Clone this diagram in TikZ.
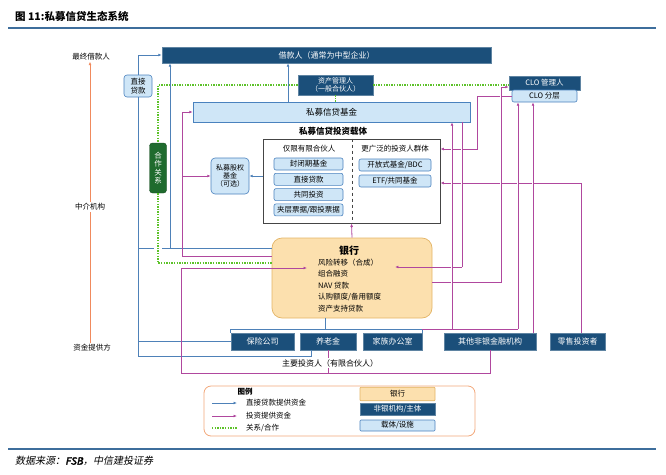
\documentclass[tikz,border=0pt]{standalone}
\usepackage{fontspec}
\setmainfont{Noto Sans CJK SC}
\newfontfamily\srcfont{Noto Sans CJK SC}[FakeSlant=0.2]
\newfontfamily\srcbold{Noto Sans CJK SC}[FakeSlant=0.2,FakeBold=2.5]
\usetikzlibrary{arrows.meta}

\definecolor{dkblue}{HTML}{1B4F7A}
\definecolor{ltblue}{HTML}{CFE6F7}
\definecolor{ltedge}{HTML}{4A82BE}
\definecolor{lnblue}{HTML}{4E81B8}
\definecolor{magline}{HTML}{B0479E}
\definecolor{grnline}{HTML}{5DC22A}
\definecolor{coopgreen}{HTML}{1F6B2E}
\definecolor{bankfill}{HTML}{FCE0AE}
\definecolor{bankedge}{HTML}{E3B466}
\definecolor{axisorg}{HTML}{F08A5D}
\definecolor{legorg}{HTML}{F2A77A}
\definecolor{rulecol}{HTML}{3E6E9C}
\definecolor{vehgray}{HTML}{454545}

\tikzset{
  darkbox/.style={fill=dkblue, draw=dkblue!70!white, line width=0.5pt, text=white, inner sep=0pt, align=center, font=\fontsize{8}{9}\selectfont},
  lightbox/.style={fill=ltblue, draw=ltedge, line width=0.6pt, rounded corners=2pt, inner sep=0pt, align=center, font=\fontsize{7.5}{8.5}\selectfont},
  bankbox/.style={fill=bankfill, draw=bankedge, line width=0.7pt, rounded corners=10pt},
  sidetext/.style={font=\fontsize{7.5}{8}\selectfont, inner sep=1pt},
  blueln/.style={draw=lnblue, line width=0.8pt},
  magln/.style={draw=magline, line width=0.8pt},
  grnln/.style={draw=grnline, line width=1.2pt, dash pattern=on 1.4pt off 1.2pt},
  halo/.style={preaction={draw=white, line width=2.8pt, -, shorten <=1.5pt, shorten >=4pt}},
}

\begin{document}
\begin{tikzpicture}[x=1pt, y=-1pt, >={Latex[length=3.4pt,width=2.8pt]}, font=\fontsize{7.5}{8}\selectfont]
\useasboundingbox (0,0) rectangle (666,474);

% title, rules, source
\node[anchor=west, inner sep=0, font=\bfseries\fontsize{10.5}{12}\selectfont] (title) at (15,16) {图 11:私募信贷生态系统};
\draw[rulecol, line width=1.5pt] (8,28) -- (656,28);
\draw[rulecol, line width=1.2pt] (8,449) -- (656,449);
\node[anchor=west, inner sep=0, font=\srcfont\fontsize{10}{12}\selectfont] (source) at (15,461) {数据来源：{\srcbold FSB}，中信建投证券};

% left axis
\node[sidetext] (ult) at (91,57) {最终借款人};
\node[sidetext] (mid) at (90,207) {中介机构};
\node[sidetext] (src) at (92,348) {资金提供方};
\draw[axisorg, line width=1pt] (mid.south |- src.north) -- (mid.south);
\draw[axisorg, line width=1pt, ->] (mid.north) -- (mid.north |- ult.south);

% boxes
\node[darkbox, minimum width=329pt, minimum height=16pt] (borrower) at (326.5,55) {借款人（通常为中型企业）};
\node[lightbox, rounded corners=3pt, minimum width=28pt, minimum height=22pt] (direct) at (138,86) {直接\\贷款};
\node[darkbox, minimum width=75pt, minimum height=20pt, font=\fontsize{7}{8.5}\selectfont] (gp) at (335.5,85) {资产管理人\\（一般合伙人）};
\node[lightbox, rounded corners=0pt, minimum width=277pt, minimum height=20pt, font=\fontsize{8.5}{9}\selectfont] (fund) at (331.5,112) {私募信贷基金};
\node[darkbox, minimum width=71pt, minimum height=14pt, font=\fontsize{7.5}{8}\selectfont] (clomgr) at (544.5,83) {CLO 管理人};
\node[lightbox, minimum width=65pt, minimum height=12pt] (clotr) at (544.5,96) {CLO 分层};
\node[fill=coopgreen, draw=coopgreen!70!black, rounded corners=3pt, text=white, minimum width=17pt, minimum height=50pt, inner sep=0pt, align=center, font=\fontsize{7.5}{8.5}\selectfont] (coop) at (158,168) {合\\作\\关\\系};
\node[lightbox, rounded corners=4pt, minimum width=38pt, minimum height=36pt, font=\fontsize{7}{8}\selectfont] (pe) at (230,176) {私募股权\\基金\\（可选）};

% investment vehicles
\node[draw=vehgray, line width=0.9pt, minimum width=177pt, minimum height=84pt, inner sep=0pt] (vehicle) at (351.5,181) {};
\node[font=\bfseries\fontsize{8.5}{9}\selectfont] (vehtitle) at (333,131) {私募信贷投资载体};
\draw[vehgray, dashed, line width=0.6pt] (vehicle.north -| 352,0) -- (vehicle.south -| 352,0);
\node (lponly) at (309,149) {仅限有限合伙人};
\node (broad) at (395,149) {更广泛的投资人群体};
\foreach \t [count=\i] in {封闭期基金, 直接贷款, 共同投资, 夹层票据/跟投票据}
  \node[lightbox, minimum width=69pt, minimum height=12pt] (lp\i) at (308.5,148.7+15.3*\i) {\t};
\node[lightbox, minimum width=72pt, minimum height=12pt] (open) at (395,165) {开放式基金/BDC};
\node[lightbox, minimum width=72pt, minimum height=12pt] (etf) at (395,181) {ETF/共同基金};

% bank
\node[bankbox, minimum width=160pt, minimum height=80pt] (bank) at (352,278) {};
\node[font=\bfseries\fontsize{10}{11}\selectfont] (banktitle) at (349,251) {银行};
\node[anchor=north west, align=left, inner sep=0pt, font=\fontsize{7.5}{11.5}\selectfont] (banklist) at (318,258.5) {风险转移（合成）\\组合融资\\NAV 贷款\\认购额度/备用额度\\资产支持贷款};

% fund providers
\node[darkbox, minimum width=63pt, minimum height=17pt] (ins) at (262.5,341.5) {保险公司};
\node[darkbox, minimum width=56pt, minimum height=17pt] (pen) at (328,341.5) {养老金};
\node[darkbox, minimum width=59pt, minimum height=17pt] (fam) at (392.5,341.5) {家族办公室};
\node[darkbox, minimum width=92pt, minimum height=17pt] (onbfi) at (490,341.5) {其他非银金融机构};
\node[darkbox, minimum width=55pt, minimum height=17pt] (retail) at (577.5,341.5) {零售投资者};

% direct lending (blue)
\draw[blueln] (pen.south -| 311,0) -- (311,356) -| (direct.south);
\draw[blueln,->] (direct.north) |- (borrower.west);
\draw[blueln] (ins.west) -- (ins.west -| direct.south);
\draw[blueln] (direct.south |- 0,248) -- (154,248);
\draw[blueln] (bank.west |- 0,248) -- (162,248);
\draw[blueln,->] (170,248) -- (borrower.south -| 170,0);
\draw[blueln,->] (fund.north -| 288,0) -- (borrower.south -| 288,0);
\draw[blueln] (ins.west |- ins.north) -- (ins.west |- 0,329) -- (fam.east |- 0,329) -- (fam.east |- fam.north);
\draw[blueln] (bank.south -| 325,0) -- (325,329);
\draw[blueln,->] (vehicle.west |- pe.east) -- (pe.east);

% relationship (green)
\draw[grnln] (gp.west) -| (coop.north);
\draw[grnln] (coop.south) |- (bank.west |- 0,263);
\draw[grnln] (gp.east) -- (gp.east -| clomgr.west);
\draw[grnln] (gp.south) -- (gp.south |- fund.north);

% investment (magenta)
\draw[magln,->] (bank.west |- 0,256) -| (182,112) -- (fund.west);
\draw[magln,->] (182,176) -- (pe.west);
\draw[magln] (onbfi.south) |- (181,373) -- (181,268);
\draw[magln,->] (181,268) -- (307,268);
\draw[magln] (pen.south) -- (pen.south |- 0,373);
\node[fill=white, inner sep=1pt, font=\fontsize{8}{9}\selectfont] (lpnote) at (330,363) {主要投资人（有限合伙人）};
\draw[magln,->] (bank.north) -- (vehicle.south);
\draw[magln,->] (retail.north -| 581,0) |- (vehicle.east |- 0,183);
\draw[magln,->] (clotr.west) -| (477,149) -- (vehicle.east |- 0,149);
\draw[magln,halo,->] (bank.east |- 0,282) -| (501,87) -- (clomgr.west |- 0,87);
\draw[magln,halo] (fund.south -| 462,0) -- (462,267);
\draw[magln,->] (462,267) -- (395,267);
\draw[magln] (fam.east |- 0,329) -- (518,329);
\draw[magln,halo,->] (452,329) -- (fund.south -| 452,0);
\draw[magln,halo,->] (518,329) -- (clotr.south -| 518,0);
\draw[magln,halo,->] (onbfi.north -| 533,0) -- (clotr.south -| 533,0);

% legend
\node[draw=legorg, line width=0.8pt, rounded corners=7pt, minimum width=271pt, minimum height=50pt, inner sep=0pt] (legend) at (339.5,411) {};
\node[font=\bfseries\fontsize{7.5}{8}\selectfont] (legtitle) at (245,392) {图例};
\node[anchor=west, sidetext] (legdirect) at (245,403) {直接贷款提供资金};
\node[anchor=west, sidetext] (leginvest) at (245,416) {投资提供资金};
\node[anchor=west, sidetext] (legrel) at (245,428) {关系/合作};
\draw[blueln,->] ([xshift=-33pt]legdirect.west) -- ([xshift=-8pt]legdirect.west);
\draw[magln,->] ([xshift=-33pt]leginvest.west) -- ([xshift=-8pt]leginvest.west);
\draw[grnln] ([xshift=-33pt]legrel.west) -- ([xshift=-8pt]legrel.west);
\node[bankbox, rounded corners=1pt, minimum width=75pt, minimum height=12pt, font=\fontsize{7.5}{8}\selectfont] (legbank) at (397.5,394) {银行};
\node[darkbox, minimum width=75pt, minimum height=12pt, font=\fontsize{7.5}{8}\selectfont] (legnbfi) at (397.5,409) {非银机构/主体};
\node[lightbox, rounded corners=1pt, minimum width=75pt, minimum height=11pt] (legveh) at (397.5,425.5) {载体/设施};
\end{tikzpicture}
\end{document}
